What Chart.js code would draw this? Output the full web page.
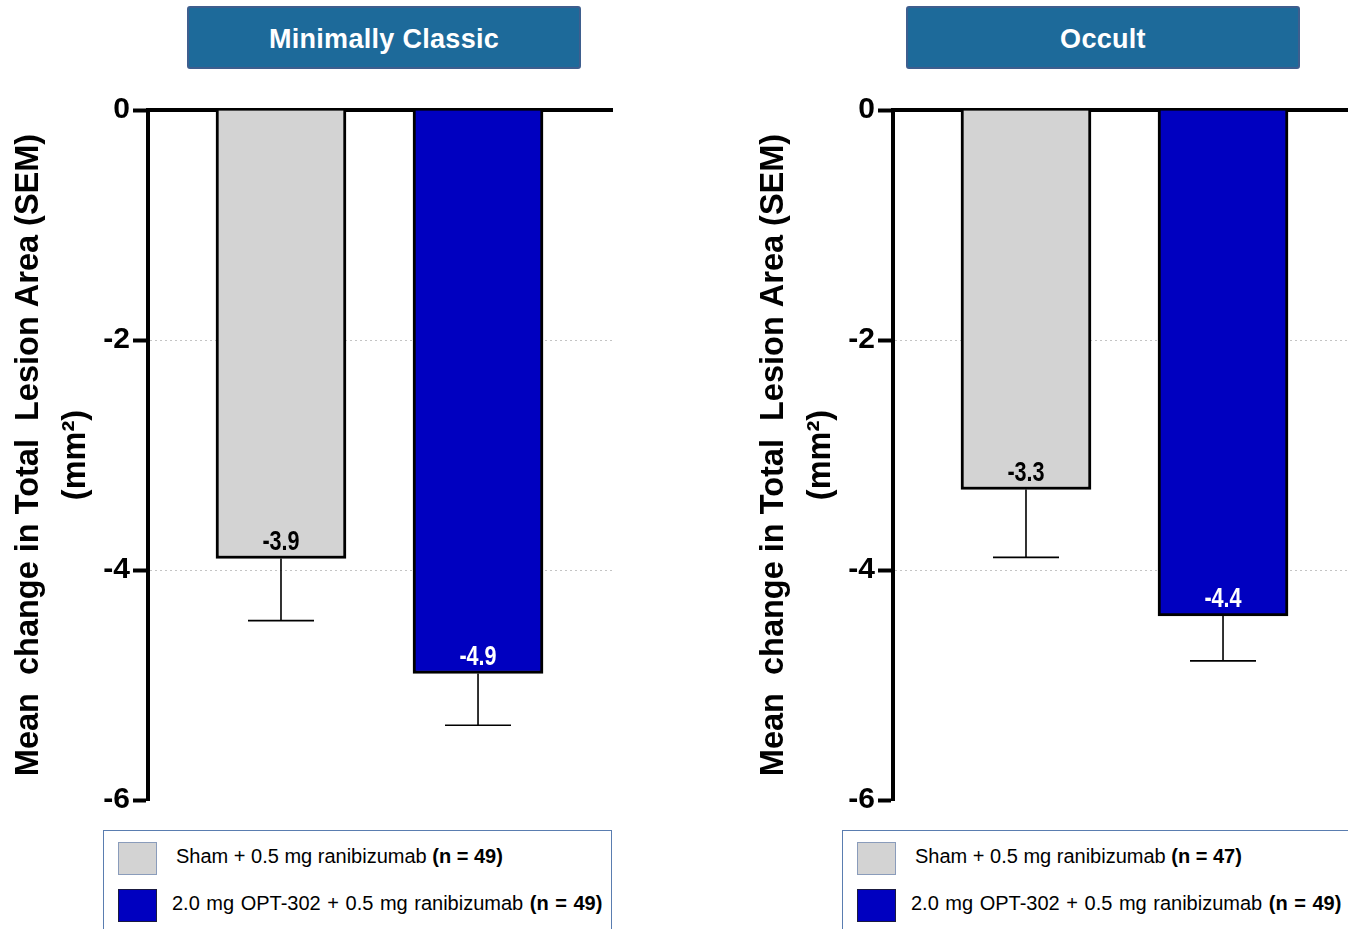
<!DOCTYPE html>
<html>
<head>
<meta charset="utf-8">
<title>Mean change in Total Lesion Area</title>
<script src="https://cdn.jsdelivr.net/npm/chart.js@4.4.1/dist/chart.umd.min.js"></script>
<style>
  html, body { margin: 0; padding: 0; background: #fff; }
  body { width: 1348px; height: 929px; overflow: hidden; position: relative;
         font-family: "Liberation Sans", Arial, Helvetica, sans-serif; color: #000; }
  .panel { position: absolute; top: 0; width: 620px; height: 821px; }
  .head { position: absolute; top: 6px; width: 394px; height: 63px; box-sizing: border-box;
          padding-top: 3px;
          background: #1d6a9a; border: 2px solid #3e5e8e; border-radius: 3px;
          color: #fff; font-weight: bold; font-size: 27px; letter-spacing: 0.3px;
          display: flex; align-items: center; justify-content: center; }
  .legend { position: absolute; top: 830px; height: 130px; box-sizing: border-box;
            border: 1px solid #5a7db0; }
  .sw { position: absolute; width: 39px; height: 33px; box-sizing: border-box; }
  .row { position: absolute; font-size: 20px; line-height: 24px; white-space: nowrap; }
  .row b { font-weight: bold; }
</style>
</head>
<body>
<div class="panel" style="left:0"><canvas id="c0" width="620" height="821"></canvas></div>
<div class="panel" style="left:745px"><canvas id="c1" width="620" height="821"></canvas></div>
<div id="overlay"></div>

<script>
// Subgroups shown side by side
const panelTitles = ['Minimally Classic', 'Occult'];

// Treatment arms
const armLabels = ['Sham + 0.5 mg ranibizumab', '2.0 mg OPT-302 + 0.5 mg ranibizumab'];
const armColors = ['#d3d3d3', '#0000c0'];
const armTextColors = ['#000000', '#ffffff'];
const armSwatchBorders = ['#8a9cbb', '#1a1a40'];

// Mean change in total lesion area (mm²) and SEM, per subgroup
const classicMeans = [-3.9, -4.9];
const classicSem = [0.54, 0.45];
const classicN = [49, 49];

const occultMeans = [-3.3, -4.4];
const occultSem = [0.59, 0.39];
const occultN = [47, 49];

// Value axis ticks
const yTicks = [0, -2, -4, -6];

// Bar positions along the (hidden) linear x axis
const armPositions = [1, 2];

const FONT = '"Liberation Sans", Arial, Helvetica, sans-serif';

// Error bars (downward SEM whiskers) and value labels inside the bars
const barExtras = {
  id: 'barExtras',
  afterDatasetsDraw(chart) {
    const { ctx } = chart;
    const yScale = chart.scales.y;
    const ds = chart.data.datasets[0];
    const meta = chart.getDatasetMeta(0);
    meta.data.forEach((bar, i) => {
      const mean = ds.data[i].y;
      const low = yScale.getPixelForValue(mean - ds.sem[i]);
      ctx.save();
      ctx.strokeStyle = '#000';
      ctx.lineWidth = 1.6;
      ctx.beginPath();
      ctx.moveTo(bar.x, bar.y);
      ctx.lineTo(bar.x, low);
      ctx.moveTo(bar.x - 33, low);
      ctx.lineTo(bar.x + 33, low);
      ctx.stroke();

      // condensed bold label
      ctx.translate(bar.x, bar.y - 9);
      ctx.scale(0.8, 1);
      ctx.font = 'bold 27px ' + FONT;
      ctx.fillStyle = ds.labelColors[i];
      ctx.textAlign = 'center';
      ctx.textBaseline = 'alphabetic';
      ctx.fillText(mean.toFixed(1), 0, 0);
      ctx.restore();
    });
  }
};

function makePanel(canvasId, means, sems) {
  const points = armPositions.map((x, i) => ({ x: x, y: means[i] }));
  return new Chart(document.getElementById(canvasId), {
    type: 'bar',
    data: {
      datasets: [{
        data: points,
        sem: sems,
        labelColors: armTextColors,
        backgroundColor: armColors,
        borderColor: '#000',
        borderWidth: 3,
        borderSkipped: 'start',
        barThickness: 130
      }]
    },
    options: {
      responsive: false,
      animation: false,
      devicePixelRatio: 1,
      layout: { padding: { left: 5, right: 8, top: 0, bottom: 0 } },
      plugins: { legend: { display: false }, tooltip: { enabled: false } },
      scales: {
        x: {
          type: 'linear',
          position: 'top',
          offset: false,
          min: 0.325,
          max: 2.68,
          ticks: { display: false },
          grid: { display: false, drawTicks: false },
          border: { display: true, color: '#000', width: 4 },
          afterFit(scale) { scale.height = 110; }
        },
        y: {
          min: -6,
          max: 0,
          afterBuildTicks(scale) { scale.ticks = yTicks.map(v => ({ value: v })); },
          ticks: {
            color: '#000',
            padding: 3,
            font: { family: FONT, size: 30, weight: 'bold' }
          },
          grid: {
            color: c => (c.tick && (c.tick.value === -2 || c.tick.value === -4)) ? '#c4c4c4' : 'rgba(0,0,0,0)',
            lineWidth: 1,
            tickColor: '#000',
            tickWidth: 4,
            tickLength: 15
          },
          border: { display: true, color: '#000', width: 4, dash: [2, 3] },
          title: {
            display: true,
            text: ['Mean  change in Total  Lesion Area (SEM)', '(mm²)'],
            color: '#000',
            padding: 0,
            font: { family: FONT, size: 32.5, weight: 'bold', lineHeight: 1.45 }
          },
          afterFit(scale) { scale.width = 143; }
        }
      }
    },
    plugins: [barExtras]
  });
}

makePanel('c0', classicMeans, classicSem);
makePanel('c1', occultMeans, occultSem);

// Subgroup headers and arm legends
const overlay = document.getElementById('overlay');
const headLeft = [187, 906];
const legendBox = [{ left: 103, width: 509 }, { left: 842, width: 520 }];
const panelN = [classicN, occultN];

panelTitles.forEach((t, p) => {
  const h = document.createElement('div');
  h.className = 'head';
  h.style.left = headLeft[p] + 'px';
  h.textContent = t;
  overlay.appendChild(h);

  const lg = document.createElement('div');
  lg.className = 'legend';
  lg.style.left = legendBox[p].left + 'px';
  lg.style.width = legendBox[p].width + 'px';
  armLabels.forEach((lab, i) => {
    const sw = document.createElement('div');
    sw.className = 'sw';
    sw.style.left = '14px';
    sw.style.top = (11 + i * 47) + 'px';
    sw.style.background = armColors[i];
    sw.style.border = '1px solid ' + armSwatchBorders[i];
    lg.appendChild(sw);

    const row = document.createElement('div');
    row.className = 'row';
    row.style.left = (i === 0 ? 72 : 68) + 'px';
    row.style.top = (13 + i * 47) + 'px';
    if (i === 1) row.style.wordSpacing = '1px';
    row.appendChild(document.createTextNode(lab + ' '));
    const b = document.createElement('b');
    b.textContent = '(n = ' + panelN[p][i] + ')';
    row.appendChild(b);
    lg.appendChild(row);
  });
  overlay.appendChild(lg);
});
</script>
</body>
</html>
